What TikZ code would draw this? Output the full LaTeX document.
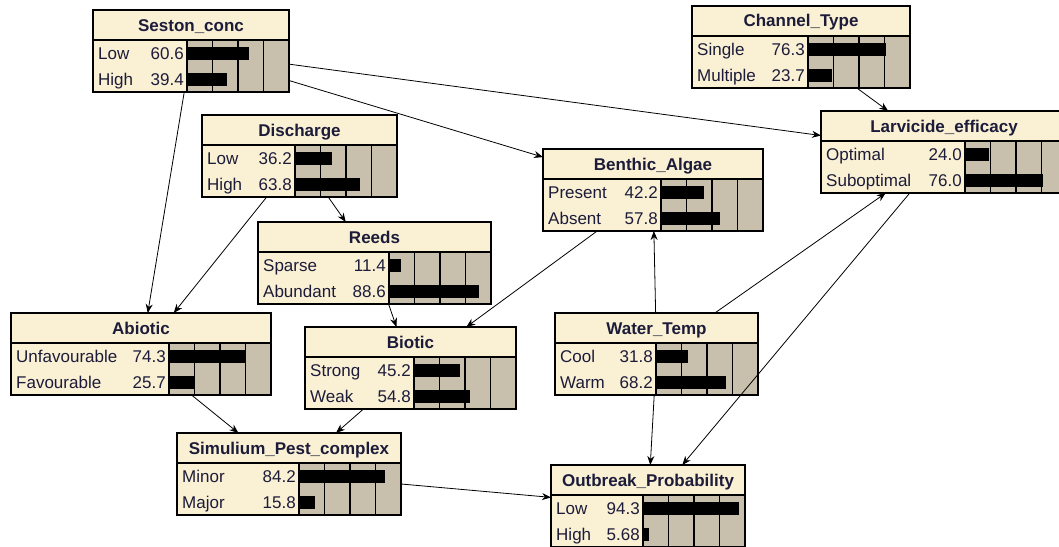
\documentclass[tikz,border=0pt]{standalone}
\usepackage{fontspec}
\setmainfont{Liberation Sans}
\usetikzlibrary{arrows.meta,calc}
\definecolor{cream}{RGB}{250,240,212}
\definecolor{barbg}{RGB}{200,192,172}
\definecolor{ink}{RGB}{28,28,58}
\tikzset{
  bnbox/.style={rectangle, fill=cream, draw=none, outer sep=0pt, inner sep=0pt, minimum height=82},
  bnborder/.style={draw=black, line width=1.3pt},
  gridline/.style={draw=black, line width=1.2pt},
  bntitle/.style={anchor=base, inner sep=0pt, text=ink, font=\fontsize{17}{20}\selectfont\bfseries},
  bnlab/.style={inner sep=0pt, text=ink, font=\fontsize{17}{20}\selectfont},
  arr/.style={draw=black, line width=0.8pt, -{Stealth[length=9pt,width=7pt]}}
}
\newcommand\bn[9]{%
  \pgfmathsetmacro\bnL{#2}\pgfmathsetmacro\bnT{#3}\pgfmathsetmacro\bnR{#4}%
  \pgfmathsetmacro\bnB{\bnT+82}\pgfmathsetmacro\bnS{\bnR-102}\pgfmathsetmacro\bnM{\bnT+30}%
  \node[bnbox, minimum width={\bnR-\bnL}, anchor=north west] (#1) at (\bnL,\bnT) {};
  \fill[barbg] (\bnS,\bnM) rectangle (\bnR,\bnB);
  \foreach \k in {0,1,2,3} {\draw[gridline] ({\bnS+\k*25.5},\bnM) -- ({\bnS+\k*25.5},\bnB);}
  \fill[black] (\bnS,\bnM+6.5) rectangle ++(#7*1.02,13);
  \fill[black] (\bnS,\bnM+32.5) rectangle ++(#9*1.02,13);
  \draw[bnborder] (\bnL,\bnM) -- (\bnR,\bnM);
  \node[bntitle] at ({(\bnL+\bnR)/2},\bnT+21) {#5};
  \node[bnlab, anchor=base west] at (\bnL+5,\bnM+19) {#6};
  \node[bnlab, anchor=base east] at (\bnS-3,\bnM+19) {#7};
  \node[bnlab, anchor=base west] at (\bnL+5,\bnM+45) {#8};
  \node[bnlab, anchor=base east] at (\bnS-3,\bnM+45) {#9};
  \draw[bnborder] (#1.north west) rectangle (#1.south east);
}
\begin{document}
\begin{tikzpicture}[x=1pt,y=-1pt]
\useasboundingbox (0,0) rectangle (1059,546);
\clip (0,0) rectangle (1059,546);
\fill[white] (0,0) rectangle (1059,546);
\bn{seston}{93}{10}{289}{Seston\_conc}{Low}{60.6}{High}{39.4}
\bn{channel}{692}{6}{910}{Channel\_Type}{Single}{76.3}{Multiple}{23.7}
\bn{larv}{821}{111}{1067}{Larvicide\_efficacy}{Optimal}{24.0}{Suboptimal}{76.0}
\bn{discharge}{202}{115}{397}{Discharge}{Low}{36.2}{High}{63.8}
\bn{benthic}{543}{149}{763}{Benthic\_Algae}{Present}{42.2}{Absent}{57.8}
\bn{reeds}{258}{222}{491}{Reeds}{Sparse}{11.4}{Abundant}{88.6}
\bn{abiotic}{11}{313}{271}{Abiotic}{Unfavourable}{74.3}{Favourable}{25.7}
\bn{biotic}{305}{327}{516}{Biotic}{Strong}{45.2}{Weak}{54.8}
\bn{water}{555}{313}{758}{Water\_Temp}{Cool}{31.8}{Warm}{68.2}
\bn{sim}{177}{433}{401}{Simulium\_Pest\_complex}{Minor}{84.2}{Major}{15.8}
\bn{outbreak}{551}{465}{745}{Outbreak\_Probability}{Low}{94.3}{High}{5.68}
\draw[arr] (seston) -- (abiotic);
\draw[arr] (seston) -- (benthic);
\draw[arr] (seston) -- (larv);
\draw[arr] (channel) -- (larv);
\draw[arr] (discharge) -- (abiotic);
\draw[arr] (discharge) -- (reeds);
\draw[arr] (reeds) -- (biotic);
\draw[arr] (benthic) -- (biotic);
\draw[arr] (water) -- (benthic);
\draw[arr] (water) -- (larv);
\draw[arr] (water) -- (outbreak);
\draw[arr] (larv) -- (outbreak);
\draw[arr] (abiotic) -- (sim);
\draw[arr] (biotic) -- (sim);
\draw[arr] (sim) -- (outbreak);
\end{tikzpicture}
\end{document}
